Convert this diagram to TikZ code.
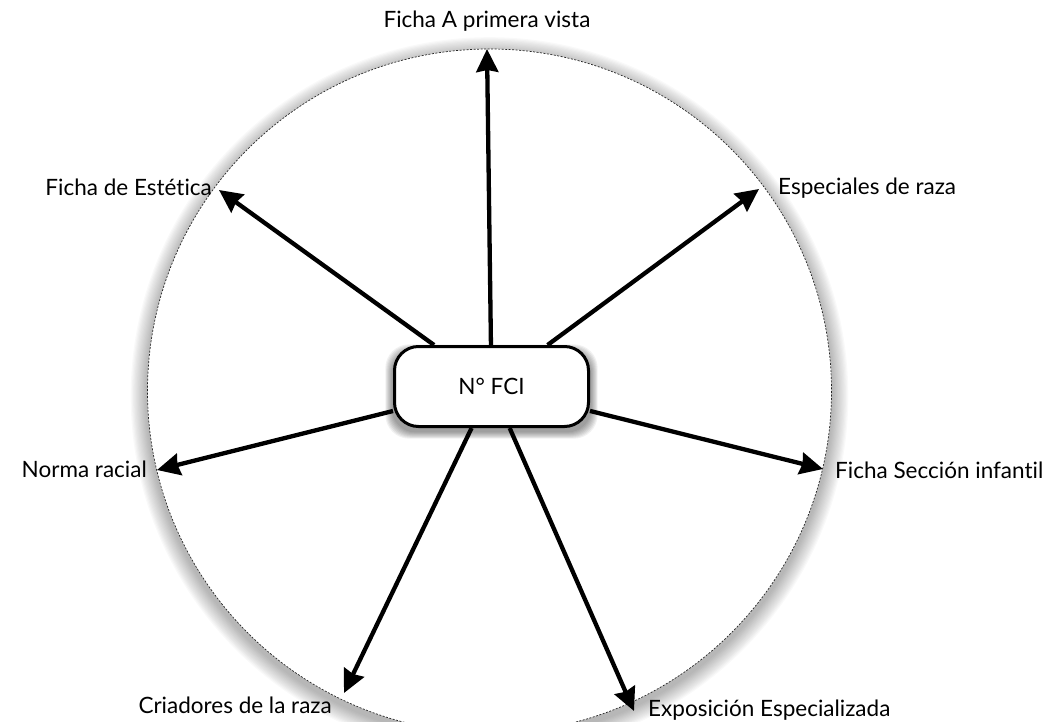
\documentclass[tikz,border=0pt]{standalone}
\usepackage{fontspec}
\setmainfont{Lato}[Ligatures=NoCommon]
\usetikzlibrary{arrows.meta}
\begin{document}
\begin{tikzpicture}[x=1pt,y=-1pt,
  lbl/.style={font=\fontsize{22.5}{26}\selectfont, inner sep=0pt},
  arr/.style={line width=4.3pt, -{Stealth[length=23pt,width=22pt,inset=2pt]}},
  hub/.style={draw, line width=3pt, rounded corners=24pt, fill=white,
    minimum width=194pt, minimum height=80pt, inner sep=0pt,
    font=\fontsize{22.5}{26}\selectfont},
  ring/.style={draw=black!85, line width=0.7pt, dash pattern=on 2pt off 1.5pt, fill=white},
]
\useasboundingbox (0,0) rectangle (1055,722);
\clip (0,0) rectangle (1055,722);
% circle shadow
\foreach \i in {1,...,14} {
  \fill[black, opacity=0.024] (489.5,396) circle ({342+\i*1.2});
}
\path[ring] (489.5,391) circle (342);
% hub shadow
\foreach \i in {1,...,8} {
  \fill[black, opacity=0.055, rounded corners=24pt]
    ({392.5-\i*0.9},{346.5+5-\i*0.9}) rectangle ({590.5+\i*0.9},{426.5+5+\i*0.9});
}
\node[hub] (hub) at (491.5,386.5) {N° FCI};

% arrow tips
\coordinate (tA) at (487,49);
\coordinate (tB) at (219,190);
\coordinate (tC) at (759,189);
\coordinate (tD) at (157,470);
\coordinate (tE) at (823,469);
\coordinate (tF) at (344,693);
\coordinate (tG) at (634,711);

\foreach \t in {tA,tB,tC,tD,tE,tF,tG} \draw[arr] (hub) -- (\t);

% labels
\node[lbl, anchor=base] (lA) at (487,28) {Ficha A primera vista};
\node[lbl, anchor=base east] (lB) at (212,196) {Ficha de Estética};
\node[lbl, anchor=base west] (lC) at (778,195) {Especiales de raza};
\node[lbl, anchor=base east] (lD) at (147,477) {Norma racial};
\node[lbl, anchor=base west] (lE) at (835,478) {Ficha Sección infantil};
\node[lbl, anchor=base east] (lF) at (332,713) {Criadores de la raza};
\node[lbl, anchor=base west] (lG) at (648,716) {Exposición Especializada};
\end{tikzpicture}
\end{document}
